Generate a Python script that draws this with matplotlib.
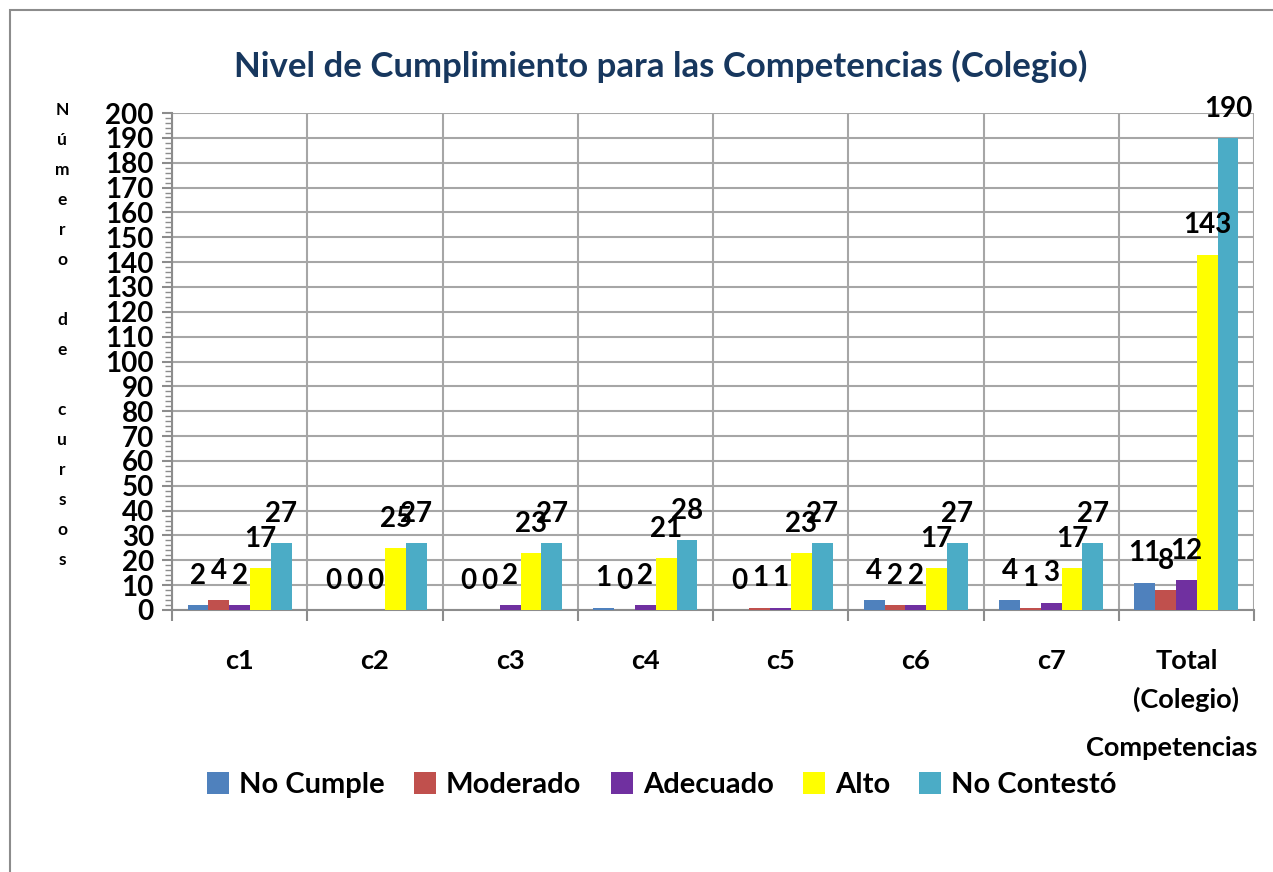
import numpy as np
import matplotlib
matplotlib.use('Agg')
import matplotlib.pyplot as plt
from matplotlib.patches import Rectangle
from matplotlib.ticker import MultipleLocator

plt.rcParams['font.family'] = ['Lato', 'DejaVu Sans']
plt.rcParams['font.weight'] = 'bold'

categorias = ['c1', 'c2', 'c3', 'c4', 'c5', 'c6', 'c7', 'Total\n(Colegio)']
series = ['No Cumple', 'Moderado', 'Adecuado', 'Alto', 'No Contestó']
no_cumple = [2, 0, 0, 1, 0, 4, 4, 11]
moderado = [4, 0, 0, 0, 1, 2, 1, 8]
adecuado = [2, 0, 2, 2, 1, 2, 3, 12]
alto = [17, 25, 23, 21, 23, 17, 17, 143]
no_contesto = [27, 27, 27, 28, 27, 27, 27, 190]
colores = ['#4F81BD', '#C0504D', '#7030A0', '#FFFF00', '#4BACC6']

valores = [no_cumple, moderado, adecuado, alto, no_contesto]

fig = plt.figure(figsize=(12.73, 8.72), dpi=100)
ax = fig.add_axes([172 / 1273, 1 - 610 / 872, (1254 - 172) / 1273, (610 - 113) / 872])

# borde exterior del gráfico
fig.patches.append(Rectangle((10 / 1273, -0.05), 1.1, 1 - 10 / 872 + 0.05,
                             transform=fig.transFigure, fill=False,
                             edgecolor='#8C8C8C', linewidth=1.5))

x = np.arange(len(categorias))
ancho = 0.154
for i, (nombre, vals, col) in enumerate(zip(series, valores, colores)):
    pos = x + (i - 2) * ancho
    ax.bar(pos, vals, width=ancho, color=col, label=nombre, zorder=3)
    for p, v in zip(pos, vals):
        ax.annotate(str(v), (p, v), xytext=(0, 21), textcoords='offset points',
                    ha='center', va='center', fontsize=20, fontweight='bold', zorder=4)

ax.set_xlim(-0.5, len(categorias) - 0.5)
ax.set_ylim(0, 200)
ax.yaxis.set_major_locator(MultipleLocator(10))
ax.yaxis.set_minor_locator(MultipleLocator(2))
ax.set_xticks(np.arange(len(categorias) + 1) - 0.5)
ax.set_xticklabels([])
ax.set_xticks(x, minor=True)
ax.set_xticklabels(categorias, minor=True, fontsize=19.5, fontweight='bold',
                   linespacing=1.65)
ax.tick_params(axis='x', which='minor', length=0, pad=28)
ax.tick_params(axis='x', which='major', length=8, color='#8C8C8C', width=1.5)
ax.tick_params(axis='y', which='major', length=7, color='#8C8C8C', width=1.5,
               labelsize=20, pad=6)
ax.tick_params(axis='y', which='minor', length=5, color='#8C8C8C', width=1)
for lbl in ax.get_yticklabels():
    lbl.set_fontweight('bold')

ax.grid(True, which='major', axis='both', color='#A6A6A6', linewidth=1.5, zorder=0)
for s in ['top', 'right']:
    ax.spines[s].set_visible(False)
for s in ['left', 'bottom']:
    ax.spines[s].set_color('#8C8C8C')
    ax.spines[s].set_linewidth(1.5)

fig.text(661 / 1273, 1 - 66 / 872, 'Nivel de Cumplimiento para las Competencias (Colegio)',
         ha='center', va='center', fontsize=25, fontweight='bold', color='#17375E')

etiqueta_y = '\n'.join(list('Número de cursos'))
fig.text(62 / 1273, 1 - 335 / 872, etiqueta_y, ha='center', va='center',
         fontsize=12.5, fontweight='bold', linespacing=2.08)

fig.text(1172 / 1273, 1 - 748 / 872, 'Competencias', ha='center', va='center',
         fontsize=19.5, fontweight='bold')

leg = fig.legend(loc='center', bbox_to_anchor=(662 / 1273, 1 - 785 / 872), ncol=5,
                 frameon=False, handlelength=0.75, handleheight=0.75,
                 handletextpad=0.35, columnspacing=1.0,
                 prop={'weight': 'bold', 'size': 21})

fig.savefig('out.png', dpi=100)
